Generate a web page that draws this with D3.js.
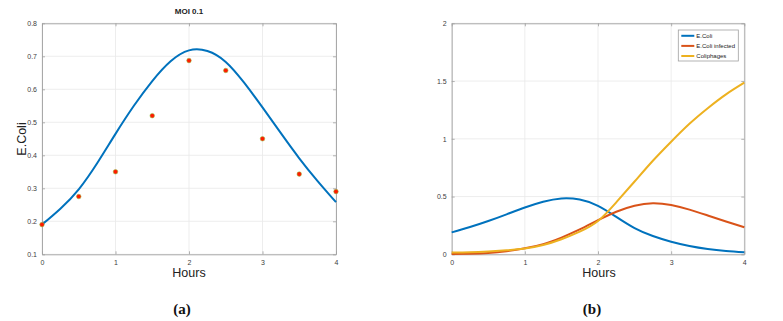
<!DOCTYPE html>
<html>
<head>
<meta charset="utf-8">
<script src="https://cdn.jsdelivr.net/npm/d3@7"></script>
<style>
  body { margin: 0; background: #fff; }
  svg { display: block; font-family: "Liberation Sans", Arial, sans-serif; }
</style>
</head>
<body>
<svg id="chart" width="783" height="321"></svg>
<script>
// panel (a): measured points and fitted curve
var hoursPts = [0, 0.5, 1, 1.5, 2, 2.5, 3, 3.5, 4];
var ecoliPts = [0.19, 0.275, 0.35, 0.52, 0.687, 0.657, 0.45, 0.343, 0.29];
var fitHours = [0, 0.25, 0.5, 0.75, 1, 1.25, 1.5, 1.75, 2, 2.25, 2.5, 2.75, 3, 3.25, 3.5, 3.75, 4];
var fitEcoli = [0.19, 0.238, 0.297, 0.376, 0.465, 0.55, 0.625, 0.685, 0.718, 0.716, 0.683, 0.62, 0.545, 0.467, 0.391, 0.322, 0.258];

// panel (b): model curves
var simHours = [0, 0.25, 0.5, 0.75, 1, 1.25, 1.5, 1.75, 2, 2.25, 2.5, 2.75, 3, 3.25, 3.5, 3.75, 4];
var simEcoli = [0.19, 0.236, 0.288, 0.346, 0.405, 0.455, 0.484, 0.474, 0.42, 0.324, 0.227, 0.158, 0.109, 0.072, 0.046, 0.029, 0.017];
var simInfected = [0.003, 0.005, 0.011, 0.027, 0.052, 0.088, 0.145, 0.215, 0.295, 0.368, 0.42, 0.441, 0.426, 0.387, 0.336, 0.284, 0.234];
var simPhages = [0.015, 0.018, 0.025, 0.035, 0.05, 0.08, 0.13, 0.196, 0.288, 0.45, 0.63, 0.81, 0.975, 1.13, 1.265, 1.385, 1.486];
var seriesNames = ["E.Coli", "E.Coli infected", "Coliphages"];
var seriesColors = ["#0072BD", "#D95319", "#EDB120"];

var xTicks = [0, 1, 2, 3, 4];
var yTicksA = [0.1, 0.2, 0.3, 0.4, 0.5, 0.6, 0.7, 0.8];
var yTicksB = [0, 0.5, 1, 1.5, 2];

var svg = d3.select("#chart");

function drawAxes(g, x, y, yTicks, yFmt) {
    var x0 = x.range()[0], x1 = x.range()[1];
    var y0 = y.range()[0], y1 = y.range()[1];
    // grid
    g.selectAll(".gx").data(xTicks).enter().append("line")
        .attr("x1", function(d){return x(d);}).attr("x2", function(d){return x(d);})
        .attr("y1", y0).attr("y2", y1)
        .attr("stroke", "#e8e8e8").attr("stroke-width", 0.8);
    g.selectAll(".gy").data(yTicks).enter().append("line")
        .attr("y1", function(d){return y(d);}).attr("y2", function(d){return y(d);})
        .attr("x1", x0).attr("x2", x1)
        .attr("stroke", "#e8e8e8").attr("stroke-width", 0.8);
    // axes with inward ticks, mirrored on top/right
    var ax = g.append("g").attr("transform", "translate(0," + y0 + ")")
        .call(d3.axisBottom(x).tickValues(xTicks).tickFormat(d3.format("d")).tickSizeInner(-3).tickSizeOuter(0).tickPadding(6));
    var ay = g.append("g").attr("transform", "translate(" + x0 + ",0)")
        .call(d3.axisLeft(y).tickValues(yTicks).tickFormat(yFmt).tickSizeInner(-3).tickSizeOuter(0).tickPadding(5));
    var axt = g.append("g").attr("transform", "translate(0," + y1 + ")")
        .call(d3.axisTop(x).tickValues(xTicks).tickSizeInner(-3).tickSizeOuter(0).tickFormat(""));
    var ayr = g.append("g").attr("transform", "translate(" + x1 + ",0)")
        .call(d3.axisRight(y).tickValues(yTicks).tickSizeInner(-3).tickSizeOuter(0).tickFormat(""));
    [ax, ay, axt, ayr].forEach(function(a) {
        a.select(".domain").attr("stroke", "#a0a0a0").attr("stroke-width", 0.9);
        a.selectAll(".tick line").attr("stroke", "#a0a0a0").attr("stroke-width", 0.8);
        a.selectAll("text").attr("fill", "#404040").style("font-size", "7px");
    });
}

// ---------- panel (a) ----------
var xa = d3.scaleLinear().domain([0, 4]).range([42, 336]);
var ya = d3.scaleLinear().domain([0.1, 0.8]).range([254.3, 23.3]);
var ga = svg.append("g");
drawAxes(ga, xa, ya, yTicksA, d3.format(".1f"));

var lineA = d3.line()
    .x(function(d, i){return xa(fitHours[i]);})
    .y(function(d){return ya(d);})
    .curve(d3.curveNatural);
ga.append("path").datum(fitEcoli).attr("d", lineA)
    .attr("fill", "none").attr("stroke", seriesColors[0]).attr("stroke-width", 2);

ga.selectAll(".pt").data(ecoliPts).enter().append("circle")
    .attr("cx", function(d, i){return xa(hoursPts[i]);})
    .attr("cy", function(d){return ya(d);})
    .attr("r", 2.3)
    .attr("fill", "#ff1a00").attr("stroke", "#8cc63f").attr("stroke-width", 0.5);

ga.append("text").attr("x", 189).attr("y", 14).attr("text-anchor", "middle")
    .style("font-size", "8px").style("font-weight", "bold").attr("fill", "#222").text("MOI 0.1");
ga.append("text").attr("x", 189).attr("y", 277).attr("text-anchor", "middle")
    .style("font-size", "12.5px").attr("fill", "#222").text("Hours");
ga.append("text").attr("transform", "translate(26,139) rotate(-90)").attr("text-anchor", "middle")
    .style("font-size", "12.5px").attr("fill", "#222").text("E.Coli");
ga.append("text").attr("x", 182).attr("y", 314).attr("text-anchor", "middle")
    .style("font-family", "'Liberation Serif', 'Times New Roman', serif")
    .style("font-size", "15px").style("font-weight", "bold").attr("fill", "#111").text("(a)");

// ---------- panel (b) ----------
var xb = d3.scaleLinear().domain([0, 4]).range([451.7, 744.3]);
var yb = d3.scaleLinear().domain([0, 2]).range([254.3, 23.3]);
var gb = svg.append("g");
drawAxes(gb, xb, yb, yTicksB, function(d){return d3.format("")(d);});

var lineB = d3.line()
    .x(function(d, i){return xb(simHours[i]);})
    .y(function(d){return yb(d);})
    .curve(d3.curveNatural);
[simEcoli, simInfected, simPhages].forEach(function(s, k) {
    gb.append("path").datum(s).attr("d", lineB)
        .attr("fill", "none").attr("stroke", seriesColors[k]).attr("stroke-width", 2);
});

gb.append("text").attr("x", 599).attr("y", 277).attr("text-anchor", "middle")
    .style("font-size", "12.5px").attr("fill", "#222").text("Hours");
gb.append("text").attr("x", 592).attr("y", 314).attr("text-anchor", "middle")
    .style("font-family", "'Liberation Serif', 'Times New Roman', serif")
    .style("font-size", "15px").style("font-weight", "bold").attr("fill", "#111").text("(b)");

// legend
var leg = gb.append("g").attr("transform", "translate(678.3,30)");
leg.append("rect").attr("width", 60).attr("height", 31)
    .attr("fill", "#fff").attr("stroke", "#a0a0a0").attr("stroke-width", 0.8);
seriesNames.forEach(function(n, k) {
    var yy = 5.8 + k * 10.1;
    leg.append("line").attr("x1", 3).attr("x2", 16).attr("y1", yy).attr("y2", yy)
        .attr("stroke", seriesColors[k]).attr("stroke-width", 2);
    leg.append("text").attr("x", 18).attr("y", yy + 2).style("font-size", "6px")
        .attr("fill", "#222").text(n);
});
</script>
</body>
</html>
